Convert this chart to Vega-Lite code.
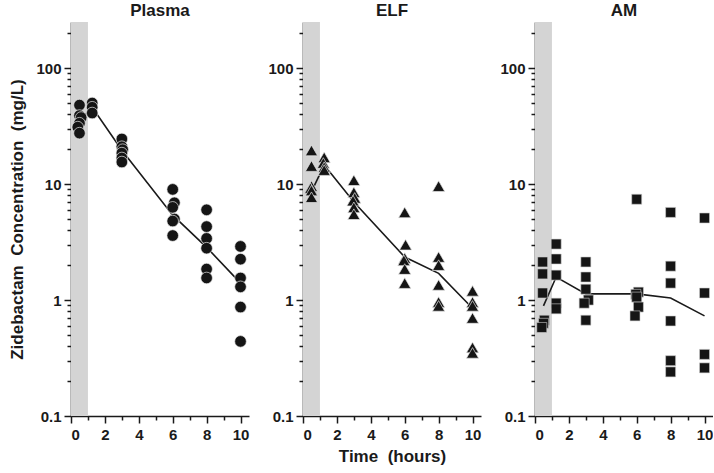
{
  "$schema": "https://vega.github.io/schema/vega-lite/v6.json",
  "padding": {"left": 8, "top": 2, "right": 0, "bottom": 4},
  "spacing": 18,
  "config": {
    "view": {"stroke": null},
    "font": "Liberation Sans",
    "title": {"fontSize": 17, "fontWeight": "bold", "color": "#1a1a1a", "offset": 2},
    "axis": {
      "domainColor": "#1a1a1a", "domainWidth": 1.6, "tickColor": "#1a1a1a", "tickWidth": 1.5,
      "labelFont": "Liberation Sans", "labelFontSize": 15, "labelFontWeight": "bold", "labelColor": "#1a1a1a",
      "titleFont": "Liberation Sans", "titleFontSize": 17, "titleFontWeight": "bold", "titleColor": "#1a1a1a",
      "labelOverlap": false,
      "grid": false
    }
  },
  "datasets": {
    "band": [{"t": 0, "t1": 1}],
    "pts": [
      {"panel": "Plasma", "t": 0.5, "conc": 48},
      {"panel": "Plasma", "t": 0.5, "conc": 39},
      {"panel": "Plasma", "t": 0.6, "conc": 37.5},
      {"panel": "Plasma", "t": 0.5, "conc": 33.5},
      {"panel": "Plasma", "t": 0.4, "conc": 31},
      {"panel": "Plasma", "t": 0.5, "conc": 27.5},
      {"panel": "Plasma", "t": 1.25, "conc": 50},
      {"panel": "Plasma", "t": 1.25, "conc": 46},
      {"panel": "Plasma", "t": 1.25, "conc": 41},
      {"panel": "Plasma", "t": 3, "conc": 24.5},
      {"panel": "Plasma", "t": 3, "conc": 21},
      {"panel": "Plasma", "t": 3.05, "conc": 19.8},
      {"panel": "Plasma", "t": 3, "conc": 18.5},
      {"panel": "Plasma", "t": 3, "conc": 16.8},
      {"panel": "Plasma", "t": 3, "conc": 15.5},
      {"panel": "Plasma", "t": 6, "conc": 9.0},
      {"panel": "Plasma", "t": 6.1, "conc": 6.9},
      {"panel": "Plasma", "t": 6, "conc": 6.3},
      {"panel": "Plasma", "t": 6.1, "conc": 5.0},
      {"panel": "Plasma", "t": 6, "conc": 4.8},
      {"panel": "Plasma", "t": 6, "conc": 3.6},
      {"panel": "Plasma", "t": 8, "conc": 6.0},
      {"panel": "Plasma", "t": 8, "conc": 4.3},
      {"panel": "Plasma", "t": 8, "conc": 3.4},
      {"panel": "Plasma", "t": 8, "conc": 2.8},
      {"panel": "Plasma", "t": 8, "conc": 1.85},
      {"panel": "Plasma", "t": 8, "conc": 1.55},
      {"panel": "Plasma", "t": 10, "conc": 2.9},
      {"panel": "Plasma", "t": 10, "conc": 2.25},
      {"panel": "Plasma", "t": 10, "conc": 1.55},
      {"panel": "Plasma", "t": 10, "conc": 1.3},
      {"panel": "Plasma", "t": 10, "conc": 0.87},
      {"panel": "Plasma", "t": 10, "conc": 0.44},
      {"panel": "ELF", "t": 0.5, "conc": 19.5},
      {"panel": "ELF", "t": 0.5, "conc": 14.3},
      {"panel": "ELF", "t": 0.5, "conc": 9.6},
      {"panel": "ELF", "t": 0.45, "conc": 9.2},
      {"panel": "ELF", "t": 0.5, "conc": 8.8},
      {"panel": "ELF", "t": 0.5, "conc": 7.7},
      {"panel": "ELF", "t": 1.25, "conc": 17},
      {"panel": "ELF", "t": 1.2, "conc": 15.2},
      {"panel": "ELF", "t": 1.25, "conc": 14},
      {"panel": "ELF", "t": 1.25, "conc": 13.2},
      {"panel": "ELF", "t": 3, "conc": 10.8},
      {"panel": "ELF", "t": 3, "conc": 8.5},
      {"panel": "ELF", "t": 3.05, "conc": 7.6},
      {"panel": "ELF", "t": 2.95, "conc": 7.2},
      {"panel": "ELF", "t": 3, "conc": 6.3},
      {"panel": "ELF", "t": 3, "conc": 5.5},
      {"panel": "ELF", "t": 6, "conc": 5.7},
      {"panel": "ELF", "t": 6.05, "conc": 3.0},
      {"panel": "ELF", "t": 6, "conc": 2.3},
      {"panel": "ELF", "t": 5.95, "conc": 2.2},
      {"panel": "ELF", "t": 6, "conc": 1.85},
      {"panel": "ELF", "t": 6, "conc": 1.4},
      {"panel": "ELF", "t": 8, "conc": 9.6},
      {"panel": "ELF", "t": 8, "conc": 2.35},
      {"panel": "ELF", "t": 8, "conc": 2.0},
      {"panel": "ELF", "t": 8, "conc": 1.35},
      {"panel": "ELF", "t": 8, "conc": 0.96},
      {"panel": "ELF", "t": 8, "conc": 0.89},
      {"panel": "ELF", "t": 10, "conc": 1.2},
      {"panel": "ELF", "t": 10, "conc": 0.96},
      {"panel": "ELF", "t": 10, "conc": 0.89},
      {"panel": "ELF", "t": 10, "conc": 0.7},
      {"panel": "ELF", "t": 10, "conc": 0.39},
      {"panel": "ELF", "t": 10, "conc": 0.35},
      {"panel": "AM", "t": 0.45, "conc": 2.13},
      {"panel": "AM", "t": 0.45, "conc": 1.68},
      {"panel": "AM", "t": 0.45, "conc": 1.15},
      {"panel": "AM", "t": 0.55, "conc": 0.67},
      {"panel": "AM", "t": 0.5, "conc": 0.63},
      {"panel": "AM", "t": 0.4, "conc": 0.58},
      {"panel": "AM", "t": 1.25, "conc": 3.04},
      {"panel": "AM", "t": 1.25, "conc": 2.26},
      {"panel": "AM", "t": 1.25, "conc": 1.64},
      {"panel": "AM", "t": 1.25, "conc": 0.94},
      {"panel": "AM", "t": 1.25, "conc": 0.84},
      {"panel": "AM", "t": 3, "conc": 2.13},
      {"panel": "AM", "t": 3, "conc": 1.58},
      {"panel": "AM", "t": 3, "conc": 1.24},
      {"panel": "AM", "t": 3.15, "conc": 1.0},
      {"panel": "AM", "t": 2.9, "conc": 0.94},
      {"panel": "AM", "t": 3, "conc": 0.67},
      {"panel": "AM", "t": 6, "conc": 7.4},
      {"panel": "AM", "t": 6.1, "conc": 1.17},
      {"panel": "AM", "t": 5.95, "conc": 1.12},
      {"panel": "AM", "t": 6, "conc": 1.06},
      {"panel": "AM", "t": 6.1, "conc": 0.87},
      {"panel": "AM", "t": 5.9, "conc": 0.73},
      {"panel": "AM", "t": 8, "conc": 5.7},
      {"panel": "AM", "t": 8, "conc": 1.96},
      {"panel": "AM", "t": 8, "conc": 1.4},
      {"panel": "AM", "t": 8, "conc": 0.66},
      {"panel": "AM", "t": 8, "conc": 0.3},
      {"panel": "AM", "t": 8, "conc": 0.24},
      {"panel": "AM", "t": 10, "conc": 5.1},
      {"panel": "AM", "t": 10, "conc": 1.15},
      {"panel": "AM", "t": 10, "conc": 0.34},
      {"panel": "AM", "t": 10, "conc": 0.26}
    ],
    "line": [
      {"panel": "Plasma", "t": 0.5, "conc": 35},
      {"panel": "Plasma", "t": 1.25, "conc": 46},
      {"panel": "Plasma", "t": 3, "conc": 19.6},
      {"panel": "Plasma", "t": 6, "conc": 5.4},
      {"panel": "Plasma", "t": 8, "conc": 2.85},
      {"panel": "Plasma", "t": 10, "conc": 1.4},
      {"panel": "ELF", "t": 0.5, "conc": 8.6},
      {"panel": "ELF", "t": 1.25, "conc": 14.6},
      {"panel": "ELF", "t": 3, "conc": 7.0},
      {"panel": "ELF", "t": 6, "conc": 2.35},
      {"panel": "ELF", "t": 8, "conc": 1.7},
      {"panel": "ELF", "t": 10, "conc": 0.85},
      {"panel": "AM", "t": 0.5, "conc": 0.89},
      {"panel": "AM", "t": 1.25, "conc": 1.58},
      {"panel": "AM", "t": 3, "conc": 1.13},
      {"panel": "AM", "t": 6, "conc": 1.13},
      {"panel": "AM", "t": 8, "conc": 1.04},
      {"panel": "AM", "t": 10, "conc": 0.73}
    ]
  },
  "hconcat": [
    {
      "title": "Plasma",
      "width": 178, "height": 394,
      "encoding": {
        "x": {"field": "t", "type": "quantitative", "scale": {"domain": [0, 10.5], "nice": false},
              "axis": {"title": null, "values": [0,1,2,3,4,5,6,7,8,9,10], "labelOverlap": false, "labelExpr": "datum.value % 2 == 0 ? datum.label : ''", "labelPadding": 4,
                       "tickSize": {"condition": {"test": "datum.value % 2 == 0", "value": 7}, "value": 4}}}
      },
      "layer": [
        {"data": {"name": "band"}, "mark": {"type": "rect", "color": "#d4d4d4"},
         "encoding": {"x2": {"field": "t1"}}},
        {"data": {"name": "line"}, "transform": [{"filter": "datum.panel == 'Plasma'"}],
         "mark": {"type": "line", "color": "#1a1a1a", "strokeWidth": 1.6},
         "encoding": {"y": {"field": "conc", "type": "quantitative"}}},
        {"data": {"name": "pts"}, "transform": [{"filter": "datum.panel == 'Plasma'"}],
         "mark": {"type": "point", "shape": "circle", "filled": true, "color": "#151515", "opacity": 1, "size": 135, "stroke": "#e8e8e8", "strokeWidth": 0.7},
         "encoding": {
           "y": {"field": "conc", "type": "quantitative", "scale": {"type": "log", "domain": [0.1, 250], "nice": false},
                 "axis": {"title": "Zidebactam\u00a0 Concentration\u00a0 (mg/L)", "titlePadding": 9, "labelPadding": 3, "labelOverlap": false,
                          "values": [0.1,0.2,0.3,0.4,0.5,0.6,0.7,0.8,0.9,1,2,3,4,5,6,7,8,9,10,20,30,40,50,60,70,80,90,100,200],
                          "labelExpr": "datum.value == 0.1 ? '0.1' : datum.value == 1 ? '1' : datum.value == 10 ? '10' : datum.value == 100 ? '100' : ''",
                          "tickSize": {"condition": {"test": "datum.value == 0.1 || datum.value == 1 || datum.value == 10 || datum.value == 100", "value": 7}, "value": 4}}}
         }}
      ]
    },
    {
      "title": "ELF",
      "width": 178, "height": 394,
      "encoding": {
        "x": {"field": "t", "type": "quantitative", "scale": {"domain": [0, 10.5], "nice": false},
              "axis": {"title": "Time\u00a0 (hours)", "titlePadding": 6, "values": [0,1,2,3,4,5,6,7,8,9,10], "labelOverlap": false, "labelExpr": "datum.value % 2 == 0 ? datum.label : ''", "labelPadding": 4,
                       "tickSize": {"condition": {"test": "datum.value % 2 == 0", "value": 7}, "value": 4}}}
      },
      "layer": [
        {"data": {"name": "band"}, "mark": {"type": "rect", "color": "#d4d4d4"},
         "encoding": {"x2": {"field": "t1"}}},
        {"data": {"name": "line"}, "transform": [{"filter": "datum.panel == 'ELF'"}],
         "mark": {"type": "line", "color": "#1a1a1a", "strokeWidth": 1.6},
         "encoding": {"y": {"field": "conc", "type": "quantitative"}}},
        {"data": {"name": "pts"}, "transform": [{"filter": "datum.panel == 'ELF'"}],
         "mark": {"type": "point", "shape": "triangle-up", "filled": true, "color": "#151515", "opacity": 1, "size": 150, "stroke": "#e8e8e8", "strokeWidth": 0.7},
         "encoding": {
           "y": {"field": "conc", "type": "quantitative", "scale": {"type": "log", "domain": [0.1, 250], "nice": false},
                 "axis": {"title": null, "labelPadding": 3, "labelOverlap": false,
                          "values": [0.1,0.2,0.3,0.4,0.5,0.6,0.7,0.8,0.9,1,2,3,4,5,6,7,8,9,10,20,30,40,50,60,70,80,90,100,200],
                          "labelExpr": "datum.value == 0.1 ? '0.1' : datum.value == 1 ? '1' : datum.value == 10 ? '10' : datum.value == 100 ? '100' : ''",
                          "tickSize": {"condition": {"test": "datum.value == 0.1 || datum.value == 1 || datum.value == 10 || datum.value == 100", "value": 7}, "value": 4}}}
         }}
      ]
    },
    {
      "title": "AM",
      "width": 178, "height": 394,
      "encoding": {
        "x": {"field": "t", "type": "quantitative", "scale": {"domain": [0, 10.5], "nice": false},
              "axis": {"title": null, "values": [0,1,2,3,4,5,6,7,8,9,10], "labelOverlap": false, "labelExpr": "datum.value % 2 == 0 ? datum.label : ''", "labelPadding": 4,
                       "tickSize": {"condition": {"test": "datum.value % 2 == 0", "value": 7}, "value": 4}}}
      },
      "layer": [
        {"data": {"name": "band"}, "mark": {"type": "rect", "color": "#d4d4d4"},
         "encoding": {"x2": {"field": "t1"}}},
        {"data": {"name": "line"}, "transform": [{"filter": "datum.panel == 'AM'"}],
         "mark": {"type": "line", "color": "#1a1a1a", "strokeWidth": 1.6},
         "encoding": {"y": {"field": "conc", "type": "quantitative"}}},
        {"data": {"name": "pts"}, "transform": [{"filter": "datum.panel == 'AM'"}],
         "mark": {"type": "point", "shape": "square", "filled": true, "color": "#151515", "opacity": 1, "size": 100, "stroke": "#cfcfcf", "strokeWidth": 0.6},
         "encoding": {
           "y": {"field": "conc", "type": "quantitative", "scale": {"type": "log", "domain": [0.1, 250], "nice": false},
                 "axis": {"title": null, "labelPadding": 3, "labelOverlap": false,
                          "values": [0.1,0.2,0.3,0.4,0.5,0.6,0.7,0.8,0.9,1,2,3,4,5,6,7,8,9,10,20,30,40,50,60,70,80,90,100,200],
                          "labelExpr": "datum.value == 0.1 ? '0.1' : datum.value == 1 ? '1' : datum.value == 10 ? '10' : datum.value == 100 ? '100' : ''",
                          "tickSize": {"condition": {"test": "datum.value == 0.1 || datum.value == 1 || datum.value == 10 || datum.value == 100", "value": 7}, "value": 4}}}
         }}
      ]
    }
  ]
}
